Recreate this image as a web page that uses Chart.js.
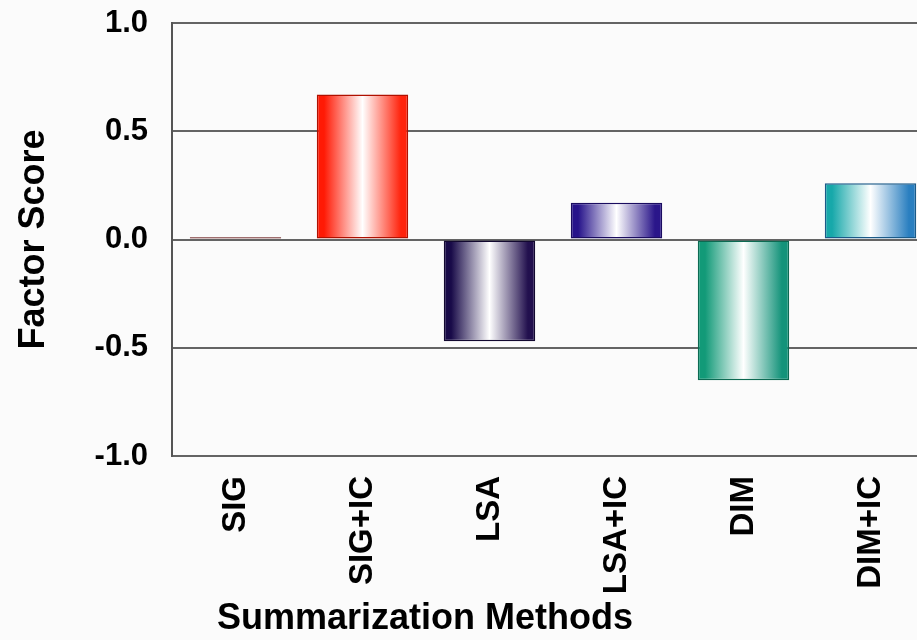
<!DOCTYPE html>
<html>
<head>
<meta charset="utf-8">
<script src="https://cdn.jsdelivr.net/npm/chart.js@4/dist/chart.umd.min.js"></script>
<style>
  html, body { margin: 0; padding: 0; background: #fbfbfb; overflow: hidden; }
  #wrap { width: 917px; height: 640px; overflow: hidden; position: relative; }
  #wrap canvas { position: absolute; left: 0; top: 0; }
</style>
</head>
<body>
<div id="wrap"><canvas id="c" width="940" height="640"></canvas></div>
<script>
// Factor scores per summarization method
const methods = ['SIG', 'SIG+IC', 'LSA', 'LSA+IC', 'DIM', 'DIM+IC'];
const factorScores = [0.01, 0.67, -0.47, 0.17, -0.65, 0.26];
const yTicks = [-1.0, -0.5, 0.0, 0.5, 1.0];
const xTitle = 'Summarization Methods';
const yTitle = 'Factor Score';

// Edge tones of each bar's shaded (white-centred) fill
const edgeLeft  = ['#8e0c0c', '#ff1a05', '#180a48', '#26138a', '#129a78', '#17a8aa'];
const edgeRight = ['#8e0c0c', '#ff230c', '#22104e', '#2a168a', '#14937a', '#2a7fc0'];
const edgeLine  = ['#5a0505', '#b01000', '#120830', '#1a0c60', '#0c6a52', '#1a5a88'];

const FONT = '"Liberation Sans", Arial, Helvetica, sans-serif';
const BAR_FRACTION = 0.9 * 0.8;

function barFill(ctx) {
  const chart = ctx.chart;
  const i = ctx.dataIndex;
  const xs = chart.scales && chart.scales.x;
  if (i === undefined || !xs || !chart.chartArea) return edgeLeft[i || 0];
  const cx = xs.getPixelForValue(i);
  const w = xs.width / methods.length * BAR_FRACTION;
  const g = chart.ctx.createLinearGradient(cx - w / 2, 0, cx + w / 2, 0);
  g.addColorStop(0, edgeLeft[i]);
  g.addColorStop(0.08, edgeLeft[i]);
  g.addColorStop(0.5, '#ffffff');
  g.addColorStop(0.92, edgeRight[i]);
  g.addColorStop(1, edgeRight[i]);
  return g;
}

// Category axis caption, placed under the rotated method labels
const xCaption = {
  id: 'xCaption',
  afterDraw(chart) {
    const { ctx, chartArea } = chart;
    ctx.save();
    ctx.font = 'bold 36px ' + FONT;
    ctx.fillStyle = '#000000';
    ctx.textAlign = 'center';
    ctx.textBaseline = 'alphabetic';
    ctx.fillText(xTitle, chartArea.left + 253, 629);
    ctx.restore();
  }
};

new Chart(document.getElementById('c'), {
  type: 'bar',
  data: {
    labels: methods,
    datasets: [{
      data: factorScores,
      backgroundColor: barFill,
      borderColor: (ctx) => edgeLine[ctx.dataIndex || 0],
      borderWidth: 1.5,
      borderSkipped: false,
      barPercentage: 0.9,
      categoryPercentage: 0.8
    }]
  },
  options: {
    responsive: false,
    animation: false,
    layout: { padding: { top: 23, right: 6, left: 0, bottom: 0 } },
    plugins: {
      legend: { display: false },
      tooltip: { enabled: false }
    },
    scales: {
      x: {
        afterFit: (s) => { s.height = 184; s.paddingLeft = 0; s.paddingRight = 0; },
        grid: { display: false, drawTicks: false },
        border: { display: false },
        ticks: {
          minRotation: 90,
          maxRotation: 90,
          padding: 20,
          color: '#000000',
          font: { family: FONT, size: 33, weight: 'bold' }
        }
      },
      y: {
        min: -1,
        max: 1,
        afterFit: (s) => { s.width = 172; s.paddingTop = 0; s.paddingBottom = 0; },
        afterBuildTicks: (s) => { s.ticks = yTicks.map(v => ({ value: v })); },
        grid: { color: '#646464', lineWidth: 2, drawTicks: false },
        border: { display: true, color: '#555555', width: 2 },
        ticks: {
          padding: 24,
          color: '#000000',
          font: { family: FONT, size: 31, weight: 'bold' },
          callback: (v) => Number(v).toFixed(1)
        },
        title: {
          display: true,
          text: yTitle,
          color: '#000000',
          padding: { top: 12, bottom: 0 },
          font: { family: FONT, size: 36, weight: 'bold' }
        }
      }
    }
  },
  plugins: [xCaption]
});
</script>
</body>
</html>
